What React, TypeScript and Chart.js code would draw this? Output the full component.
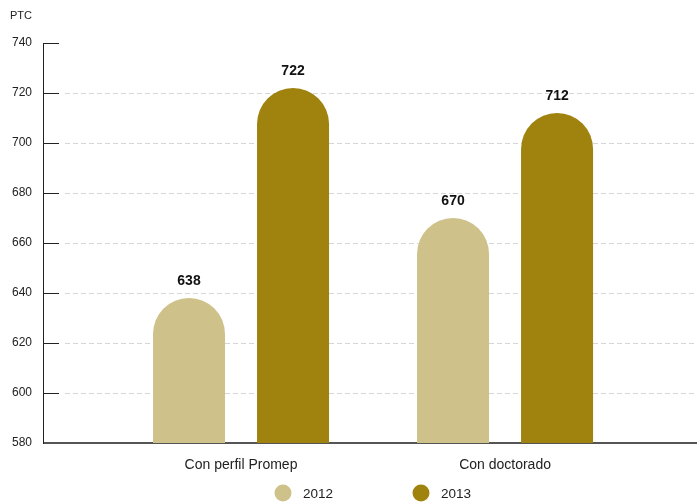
import React, { useEffect, useRef } from "react";
import { Chart, registerables } from "chart.js";

Chart.register(...registerables);

const categories = ["Con perfil Promep", "Con doctorado"];
const seriesNames = ["2012", "2013"];
const values2012 = [638, 670];
const values2013 = [722, 712];
const yTicks = [580, 600, 620, 640, 660, 680, 700, 720, 740];
const yTitle = "PTC";
const colors = ["#CEC18A", "#A0820F"];

const FONT = "'Liberation Sans', Arial, Helvetica, sans-serif";

const decorPlugin = {
  id: "decor",
  beforeDatasetsDraw(chart: any) {
    const { ctx, chartArea, scales } = chart;
    const y = scales.y;
    ctx.save();
    ctx.strokeStyle = "#d6d6d6";
    ctx.lineWidth = 1;
    ctx.setLineDash([5, 3]);
    yTicks.forEach((t, i) => {
      if (i === 0 || i === yTicks.length - 1) return;
      const py = Math.round(y.getPixelForValue(t)) + 0.5;
      ctx.beginPath();
      ctx.moveTo(chartArea.left + 22, py);
      ctx.lineTo(chartArea.right, py);
      ctx.stroke();
    });
    ctx.setLineDash([]);
    ctx.strokeStyle = "#222";
    yTicks.forEach((t) => {
      const py = Math.round(y.getPixelForValue(t)) + 0.5;
      ctx.beginPath();
      ctx.moveTo(chartArea.left, py);
      ctx.lineTo(chartArea.left + 16, py);
      ctx.stroke();
    });
    ctx.strokeStyle = "#555";
    ctx.lineWidth = 2;
    ctx.beginPath();
    ctx.moveTo(chartArea.left, chartArea.bottom);
    ctx.lineTo(chartArea.right, chartArea.bottom);
    ctx.stroke();
    ctx.strokeStyle = "#222";
    ctx.lineWidth = 1;
    ctx.beginPath();
    ctx.moveTo(chartArea.left + 0.5, chartArea.top);
    ctx.lineTo(chartArea.left + 0.5, chartArea.bottom + 1);
    ctx.stroke();
    ctx.restore();
  },
  afterDatasetsDraw(chart: any) {
    const { ctx, chartArea } = chart;
    ctx.save();
    ctx.fillStyle = "#111";
    ctx.font = `bold 14px ${FONT}`;
    ctx.textAlign = "center";
    ctx.textBaseline = "middle";
    chart.data.datasets.forEach((ds: any, di: number) => {
      const meta = chart.getDatasetMeta(di);
      meta.data.forEach((el: any, i: number) => {
        const v = ds.data[i].y;
        ctx.fillText(String(v), el.x, el.y - 17);
      });
    });
    ctx.font = `11px ${FONT}`;
    ctx.fillStyle = "#222";
    ctx.textAlign = "left";
    ctx.fillText(yTitle, 10, 16);
    const cx = (chartArea.left + chartArea.right) / 2 + 4;
    const legendY = 493;
    const spacing = 138;
    ctx.font = `13.5px ${FONT}`;
    seriesNames.forEach((name, i) => {
      const px = cx - spacing / 2 - 22 + i * spacing;
      ctx.fillStyle = colors[i];
      ctx.beginPath();
      ctx.arc(px, legendY, 8.5, 0, Math.PI * 2);
      ctx.fill();
      ctx.fillStyle = "#222";
      ctx.textAlign = "left";
      ctx.textBaseline = "middle";
      ctx.fillText(name, px + 20, legendY + 1);
    });
    ctx.restore();
  },
};

export default function App() {
  const ref = useRef<HTMLCanvasElement>(null);
  useEffect(() => {
    if (!ref.current) return;
    const chart = new Chart(ref.current, {
      type: "bar",
      data: {
        datasets: [
          {
            label: seriesNames[0],
            data: values2012.map((v, i) => ({ x: i, y: v })),
            backgroundColor: colors[0],
          },
          {
            label: seriesNames[1],
            data: values2013.map((v, i) => ({ x: i, y: v })),
            backgroundColor: colors[1],
          },
        ],
      },
      options: {
        animation: false,
        responsive: true,
        maintainAspectRatio: false,
        layout: { padding: { top: 43, left: 0, right: 0, bottom: 0 } },
        datasets: {
          bar: {
            borderRadius: 40,
            borderSkipped: "start",
            barPercentage: 0.6923,
            categoryPercentage: 0.7879,
          },
        } as any,
        plugins: {
          legend: { display: false },
          tooltip: { enabled: false },
        },
        scales: {
          x: {
            type: "linear",
            min: -0.75,
            max: 1.727,
            offset: false,
            bounds: "data",
            grid: { display: false, drawTicks: false, offset: false },
            border: { display: false },
            afterBuildTicks: (scale: any) => {
              scale.ticks = categories.map((_, i) => ({ value: i }));
            },
            afterFit: (scale: any) => {
              scale.height = 61;
            },
            ticks: {
              autoSkip: false,
              maxRotation: 0,
              padding: 14,
              color: "#222",
              font: { size: 14, family: FONT },
              callback: (v: any) => categories[Math.round(Number(v))] ?? "",
            },
          } as any,
          y: {
            min: 580,
            max: 740,
            grid: { display: false, drawTicks: false },
            border: { display: false },
            afterFit: (scale: any) => {
              scale.width = 43;
            },
            ticks: {
              stepSize: 20,
              padding: 11,
              color: "#222",
              font: { size: 12, family: FONT },
            },
          },
        },
      },
      plugins: [decorPlugin],
    });
    return () => chart.destroy();
  }, []);
  return (
    <div style={{ position: "absolute", left: 0, top: 0, width: 697, height: 504 }}>
      <canvas ref={ref} />
    </div>
  );
}
